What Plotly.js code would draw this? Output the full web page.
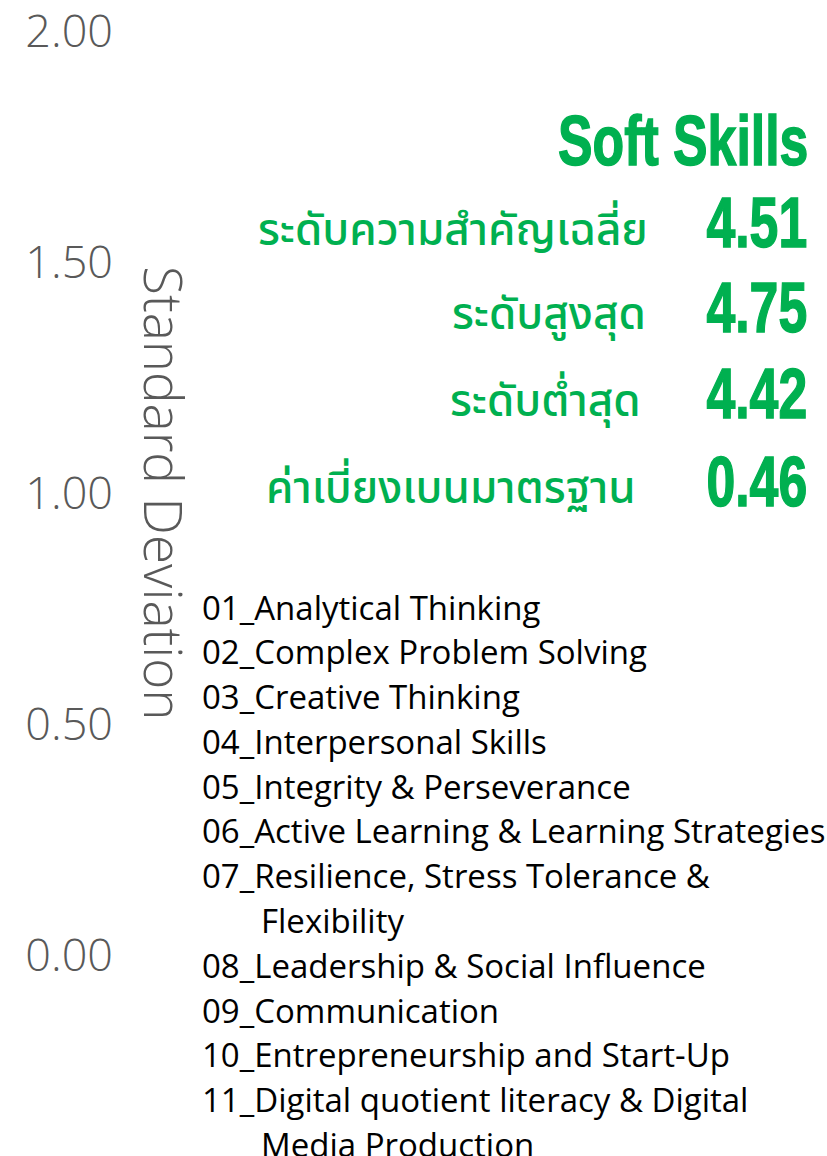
<!DOCTYPE html>
<html>
<head>
<meta charset="utf-8">
<script src="https://cdn.plot.ly/plotly-3.0.1.min.js"></script>
<style>html,body{margin:0;padding:0;background:#fff;}#chart{width:827px;height:1156px;}</style>
</head>
<body>
<div id="chart"></div>
<script>
// ---- data ----
const tickValues = [0, 0.5, 1.0, 1.5, 2.0];
const tickLabels = ["0.00", "0.50", "1.00", "1.50", "2.00"];
const yAxisTitle = "Standard Deviation";
const groupTitle = "Soft Skills";
const statLabels = ["ระดับความสำคัญเฉลี่ย", "ระดับสูงสุด", "ระดับต่ำสุด", "ค่าเบี่ยงเบนมาตรฐาน"];
const statValues = [4.51, 4.75, 4.42, 0.46];
const skillLines = [
  ["01_Analytical Thinking"],
  ["02_Complex Problem Solving"],
  ["03_Creative Thinking"],
  ["04_Interpersonal Skills"],
  ["05_Integrity & Perseverance"],
  ["06_Active Learning & Learning Strategies"],
  ["07_Resilience, Stress Tolerance &", "Flexibility"],
  ["08_Leadership & Social Influence"],
  ["09_Communication"],
  ["10_Entrepreneurship and Start-Up"],
  ["11_Digital quotient literacy & Digital", "Media Production"]
];

// ---- layout helpers ----
const W = 827, H = 1156, L = 120, R = 0, T = 0, B = 0;
const px = x => (x - L) / (W - L - R);
const py = y => 1 - (y - T) / (H - T - B);
const GREEN = "#00B050";
const GRAY = "#595959";
const CONDENSED = 0.74;

const annotations = [];
const condensedIdx = [];
annotations.push({
  xref: "paper", yref: "paper", x: px(165), y: py(493),
  text: yAxisTitle, textangle: 90, showarrow: false,
  xanchor: "center", yanchor: "middle",
  font: {family: "Open Sans", size: 53, color: GRAY, weight: 300}
});
condensedIdx.push(annotations.length);
annotations.push({
  xref: "paper", yref: "paper", x: px(810), y: py(141),
  text: groupTitle, showarrow: false, xanchor: "right", yanchor: "middle",
  font: {family: "Liberation Sans, Arial, sans-serif", size: 70, color: GREEN, weight: 700}
});
const statY = [223, 308, 394, 482];
const labelRight = [650, 648, 643, 638];
statLabels.forEach((s, i) => {
  annotations.push({
    xref: "paper", yref: "paper", x: px(labelRight[i]), y: py(statY[i] + 8),
    text: s, showarrow: false, xanchor: "right", yanchor: "middle",
    font: {family: "Noto Sans Thai, Noto Sans, sans-serif", size: 44, color: GREEN, weight: 500}
  });
  condensedIdx.push(annotations.length);
  annotations.push({
    xref: "paper", yref: "paper", x: px(809), y: py(statY[i]),
    text: statValues[i].toFixed(2), showarrow: false, xanchor: "right", yanchor: "middle",
    font: {family: "Liberation Sans, Arial, sans-serif", size: 70, color: GREEN, weight: 700}
  });
});
let lineY = 607;
skillLines.forEach(lines => {
  lines.forEach((t, j) => {
    annotations.push({
      xref: "paper", yref: "paper", x: px(j === 0 ? 200 : 259), y: py(lineY),
      text: t, showarrow: false, xanchor: "left", yanchor: "middle",
      font: {family: "Open Sans, sans-serif", size: 33, color: "#000000"}
    });
    lineY += 44.8;
  });
});

const yTop = 2 + 31 / 462;
const yBot = yTop - H / 462;

Plotly.newPlot("chart", [{
  type: "scatter", mode: "markers", x: [], y: [], showlegend: false, hoverinfo: "skip"
}], {
  width: W, height: H,
  margin: {l: L, r: R, t: T, b: B, pad: 0},
  paper_bgcolor: "#ffffff", plot_bgcolor: "#ffffff",
  showlegend: false,
  xaxis: {visible: false, range: [0, 1]},
  yaxis: {
    range: [yBot, yTop], tickmode: "array", tickvals: tickValues, ticktext: tickLabels,
    showgrid: false, zeroline: false, showline: false, ticks: "",
    tickfont: {family: "Open Sans", size: 45, color: GRAY, weight: 300},
    ticklabelstandoff: 6, ticklabeloverflow: "allow"
  },
  annotations: annotations
}, {staticPlot: true, displayModeBar: false}).then(gd => {
  // emulate a condensed heavy display face (Impact-like) for the green headline figures
  const groups = gd.querySelectorAll(".annotation");
  condensedIdx.forEach(i => {
    const g = groups[i];
    if (!g) return;
    const t = g.querySelector("text.annotation-text");
    if (!t) return;
    const bb = t.getBBox();
    const right = bb.x + bb.width;
    t.setAttribute("transform", `translate(${right * (1 - CONDENSED)},0) scale(${CONDENSED},1)`);
    t.style.stroke = GREEN;
    t.style.strokeWidth = "1.5px";
  });
});
</script>
</body>
</html>
